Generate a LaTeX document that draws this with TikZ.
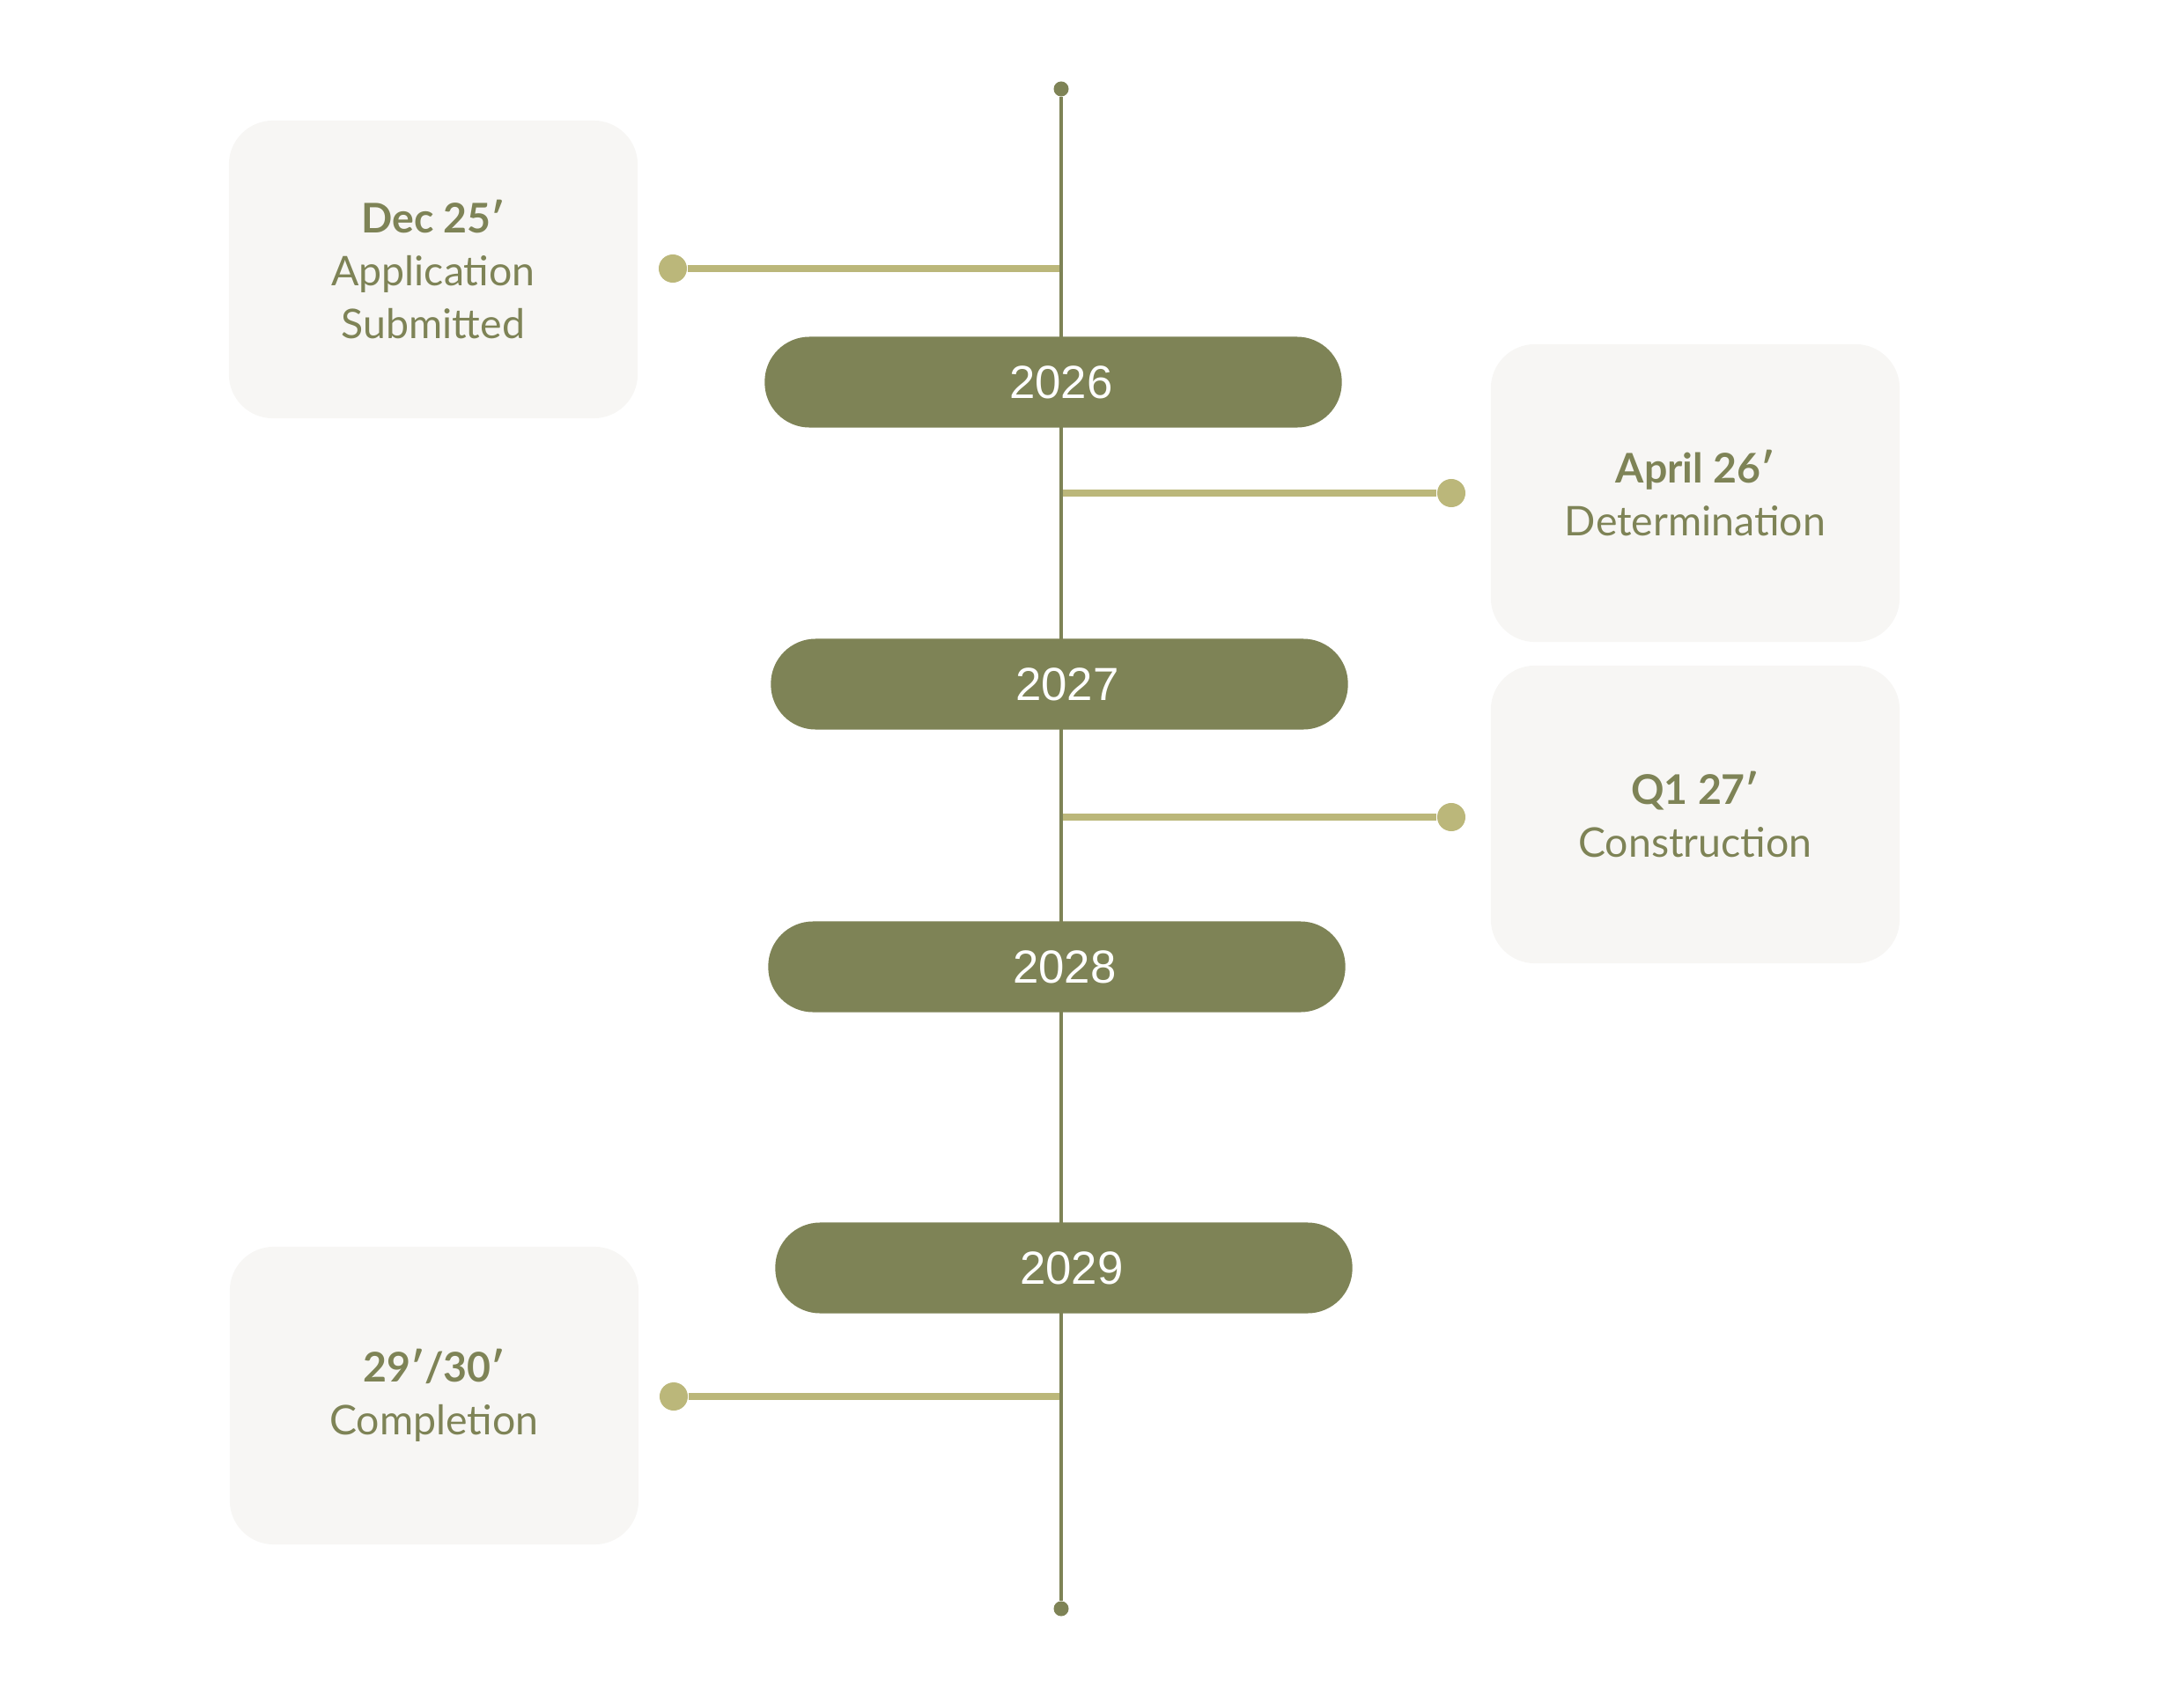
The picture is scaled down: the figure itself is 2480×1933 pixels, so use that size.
\documentclass[tikz,border=0pt]{standalone}
\usepackage{fontspec}
\setmainfont{Lato}
\newfontfamily\yearfont{Liberation Sans}
\usetikzlibrary{positioning}
\definecolor{moss}{RGB}{126,131,86}
\definecolor{khaki}{RGB}{187,183,122}
\definecolor{paper}{RGB}{247,246,244}

\begin{document}
\begin{tikzpicture}[x=0.01cm, y=-0.01cm,
  card/.style={fill=paper, rounded corners=0.5cm, minimum width=4.64cm,
    minimum height=3.38cm, align=center, text=moss,
    font=\fontsize{13.2}{17}\selectfont},
  pill/.style={fill=moss, rounded corners=0.51cm, minimum width=6.55cm,
    minimum height=1.03cm, text=white, font=\yearfont\fontsize{15}{18}\selectfont,
    execute at begin node=\hspace*{0.18cm}},
  pin/.style={circle, fill=moss, inner sep=0pt, minimum size=0.17cm},
  knob/.style={circle, fill=khaki, inner sep=0pt, minimum size=0.32cm},
  link/.style={khaki, line width=2.3pt},
  spine/.style={moss, line width=0.9pt}]
\useasboundingbox (0,0) rectangle (2480,1933);

\node[knob] (k1) at (764,305) {};
\node[knob] (k2) at (1648,560) {};
\node[knob] (k3) at (1648,928) {};
\node[knob] (k4) at (765,1586) {};
\coordinate (s1) at (1205,305);
\coordinate (s2) at (1205,560);
\coordinate (s3) at (1205,928);
\coordinate (s4) at (1205,1586);
\foreach \i in {1,...,4}
  \draw[link] (k\i) -- (s\i);

\node[pin] (top) at (1205,101) {};
\node[pin] (bottom) at (1205,1827) {};
\draw[spine] (top) -- (bottom);

\node[pill] (y2026) at (1196,434) {2026};
\node[pill] (y2027) at (1203,777) {2027};
\node[pill] (y2028) at (1200,1098) {2028};
\node[pill] (y2029) at (1208,1440) {2029};

\node[card] (dec) at (492,306) {\textbf{Dec 25′}\\Application\\Submitted};
\node[card] (april) at (1925,560) {\textbf{April 26′}\\Determination};
\node[card] (q1) at (1925,925) {\textbf{Q1 27′}\\Construction};
\node[card] (done) at (493,1585) {\textbf{29′/30′}\\Completion};
\end{tikzpicture}
\end{document}
